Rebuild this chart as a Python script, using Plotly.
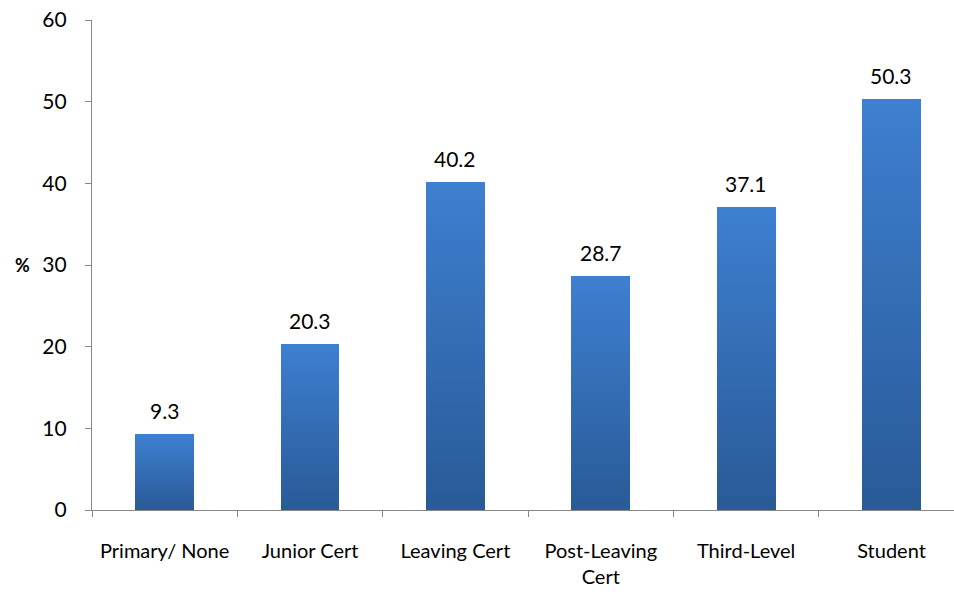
import plotly.graph_objects as go

categories = ["Primary/ None", "Junior Cert", "Leaving Cert", "Post-Leaving<br>Cert", "Third-Level", "Student"]
values = [9.3, 20.3, 40.2, 28.7, 37.1, 50.3]
y_ticks = [0, 10, 20, 30, 40, 50, 60]

FONT = "Lato, sans-serif"
TOP = (61, 127, 208)
BOTTOM = (42, 90, 152)
STEPS = 40

fig = go.Figure()

# vertical gradient fill: each bar is stacked from thin slices, shaded from bottom to top
for k in range(STEPS):
    t = k / (STEPS - 1)
    c = tuple(round(BOTTOM[i] + (TOP[i] - BOTTOM[i]) * t) for i in range(3))
    fig.add_trace(go.Bar(
        x=categories,
        y=[v / STEPS for v in values],
        width=0.405,
        marker=dict(color="rgb(%d,%d,%d)" % c, line=dict(width=0)),
        hoverinfo="skip",
        showlegend=False,
    ))

# value labels above the bars
labels = [dict(
    x=cat, y=v, text=f"{v:.1f}",
    xref="x", yref="y",
    xanchor="center", yanchor="bottom",
    yshift=9, showarrow=False,
    font=dict(family=FONT, size=21, color="#000"),
) for cat, v in zip(categories, values)]

labels.append(dict(
    text="<b>%</b>",
    xref="paper", yref="paper",
    x=-0.081, y=0.5,
    xanchor="center", yanchor="middle",
    showarrow=False,
    font=dict(family=FONT, size=18, color="#000"),
))

fig.update_layout(
    barmode="stack",
    bargap=0,
    width=954,
    height=592,
    margin=dict(l=92, r=0, t=20, b=82),
    paper_bgcolor="white",
    plot_bgcolor="white",
    font=dict(family=FONT, size=20, color="#000"),
    xaxis=dict(
        type="category",
        range=[-0.5, 5.43],
        tickson="boundaries",
        ticks="outside",
        ticklen=6,
        tickcolor="#888",
        showline=True,
        linecolor="#888",
        linewidth=1.2,
        showgrid=False,
        zeroline=False,
        ticklabelstandoff=23,
        tickfont=dict(family=FONT, size=20),
    ),
    yaxis=dict(
        range=[0, 60],
        tickvals=y_ticks,
        ticks="outside",
        ticklen=6,
        tickcolor="#888",
        showline=True,
        linecolor="#888",
        linewidth=1.2,
        showgrid=False,
        zeroline=False,
        ticklabelstandoff=14,
        tickfont=dict(family=FONT, size=21),
    ),
    annotations=labels,
)

fig.write_html("out.html")
